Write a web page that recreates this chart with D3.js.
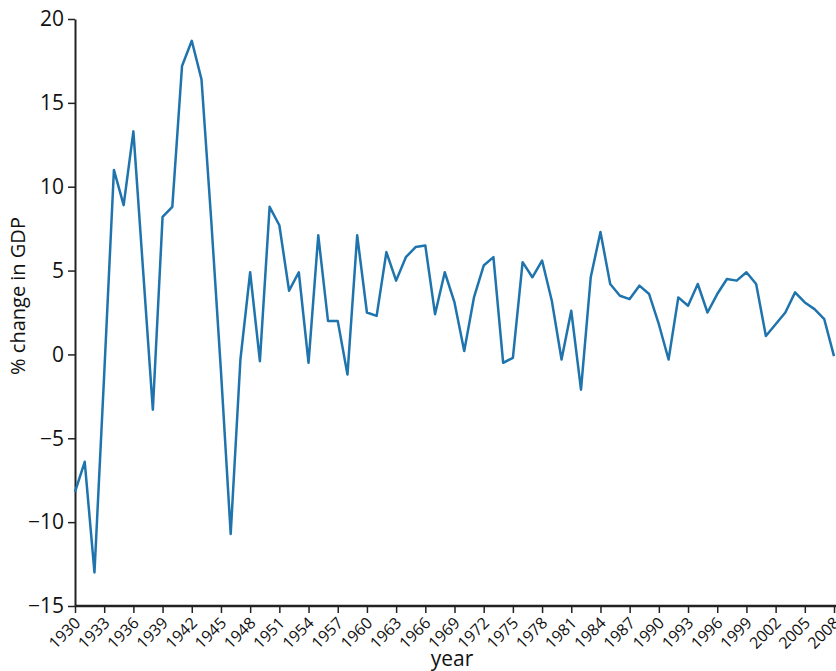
<!DOCTYPE html>
<html>
<head>
<meta charset="utf-8">
<script src="https://cdn.jsdelivr.net/npm/d3@7"></script>
<style>
  html, body { margin: 0; padding: 0; background: #fff; }
  svg { display: block; }
  text { font-family: "Open Sans", "DejaVu Sans", sans-serif; fill: #111; }
</style>
</head>
<body>
<svg id="chart" width="836" height="671"></svg>
<script>
const years = d3.range(1930, 2009);
const gdpChange = [
  -8.2, -6.4, -13.0, -1.2, 11.0, 8.9, 13.3, 5.0, -3.3, 8.2,
  8.8, 17.2, 18.7, 16.4, 8.0, -1.0, -10.7, -0.3, 4.9, -0.4,
  8.8, 7.7, 3.8, 4.9, -0.5, 7.1, 2.0, 2.0, -1.2, 7.1,
  2.5, 2.3, 6.1, 4.4, 5.8, 6.4, 6.5, 2.4, 4.9, 3.1,
  0.2, 3.4, 5.3, 5.8, -0.5, -0.2, 5.5, 4.6, 5.6, 3.2,
  -0.3, 2.6, -2.1, 4.6, 7.3, 4.2, 3.5, 3.3, 4.1, 3.6,
  1.8, -0.3, 3.4, 2.9, 4.2, 2.5, 3.6, 4.5, 4.4, 4.9,
  4.2, 1.1, 1.8, 2.5, 3.7, 3.1, 2.7, 2.1, -0.1
];
const xTickYears = d3.range(1930, 2009, 3);
const yTicks = [-15, -10, -5, 0, 5, 10, 15, 20];

const svg = d3.select("#chart");
const x = d3.scaleLinear().domain([1930, 2008]).range([75, 834]);
const y = d3.scaleLinear().domain([-15, 20]).range([606, 19]);

// y axis
const gy = svg.append("g").attr("transform", "translate(75,0)")
  .call(d3.axisLeft(y).tickValues(yTicks).tickSize(7).tickSizeOuter(0).tickPadding(4));
gy.select(".domain").attr("stroke", "#222").attr("stroke-width", 2);
gy.selectAll(".tick line").attr("stroke", "#222").attr("stroke-width", 1.5);
gy.selectAll(".tick text").style("font-size", "21px").attr("fill", "#111");

// x axis
const gx = svg.append("g").attr("transform", "translate(0,606)")
  .call(d3.axisBottom(x).tickValues(xTickYears).tickFormat(d3.format("d")).tickSize(7).tickSizeOuter(0));
gx.select(".domain").attr("stroke", "#222").attr("stroke-width", 2.5)
  .attr("d", "M75,0H836");
gx.selectAll(".tick line").attr("stroke", "#222").attr("stroke-width", 1.5);
gx.selectAll(".tick text")
  .style("font-size", "16px")
  .attr("fill", "#111")
  .attr("text-anchor", "end")
  .attr("x", 0)
  .attr("y", 0)
  .attr("dx", 0)
  .attr("dy", "0.35em")
  .attr("transform", "translate(2,14) rotate(-45)");

// line
const line = d3.line().x((d, i) => x(years[i])).y(d => y(d));
svg.append("path")
  .datum(gdpChange)
  .attr("fill", "none")
  .attr("stroke", "#1f74ad")
  .attr("stroke-width", 2.5)
  .attr("stroke-linejoin", "round")
  .attr("d", line);

// axis titles
svg.append("text")
  .attr("transform", "translate(25,296) rotate(-90)")
  .attr("text-anchor", "middle")
  .style("font-size", "20px")
  .text("% change in GDP");

svg.append("text")
  .attr("x", 452).attr("y", 666)
  .attr("text-anchor", "middle")
  .style("font-size", "21px")
  .text("year");
</script>
</body>
</html>
